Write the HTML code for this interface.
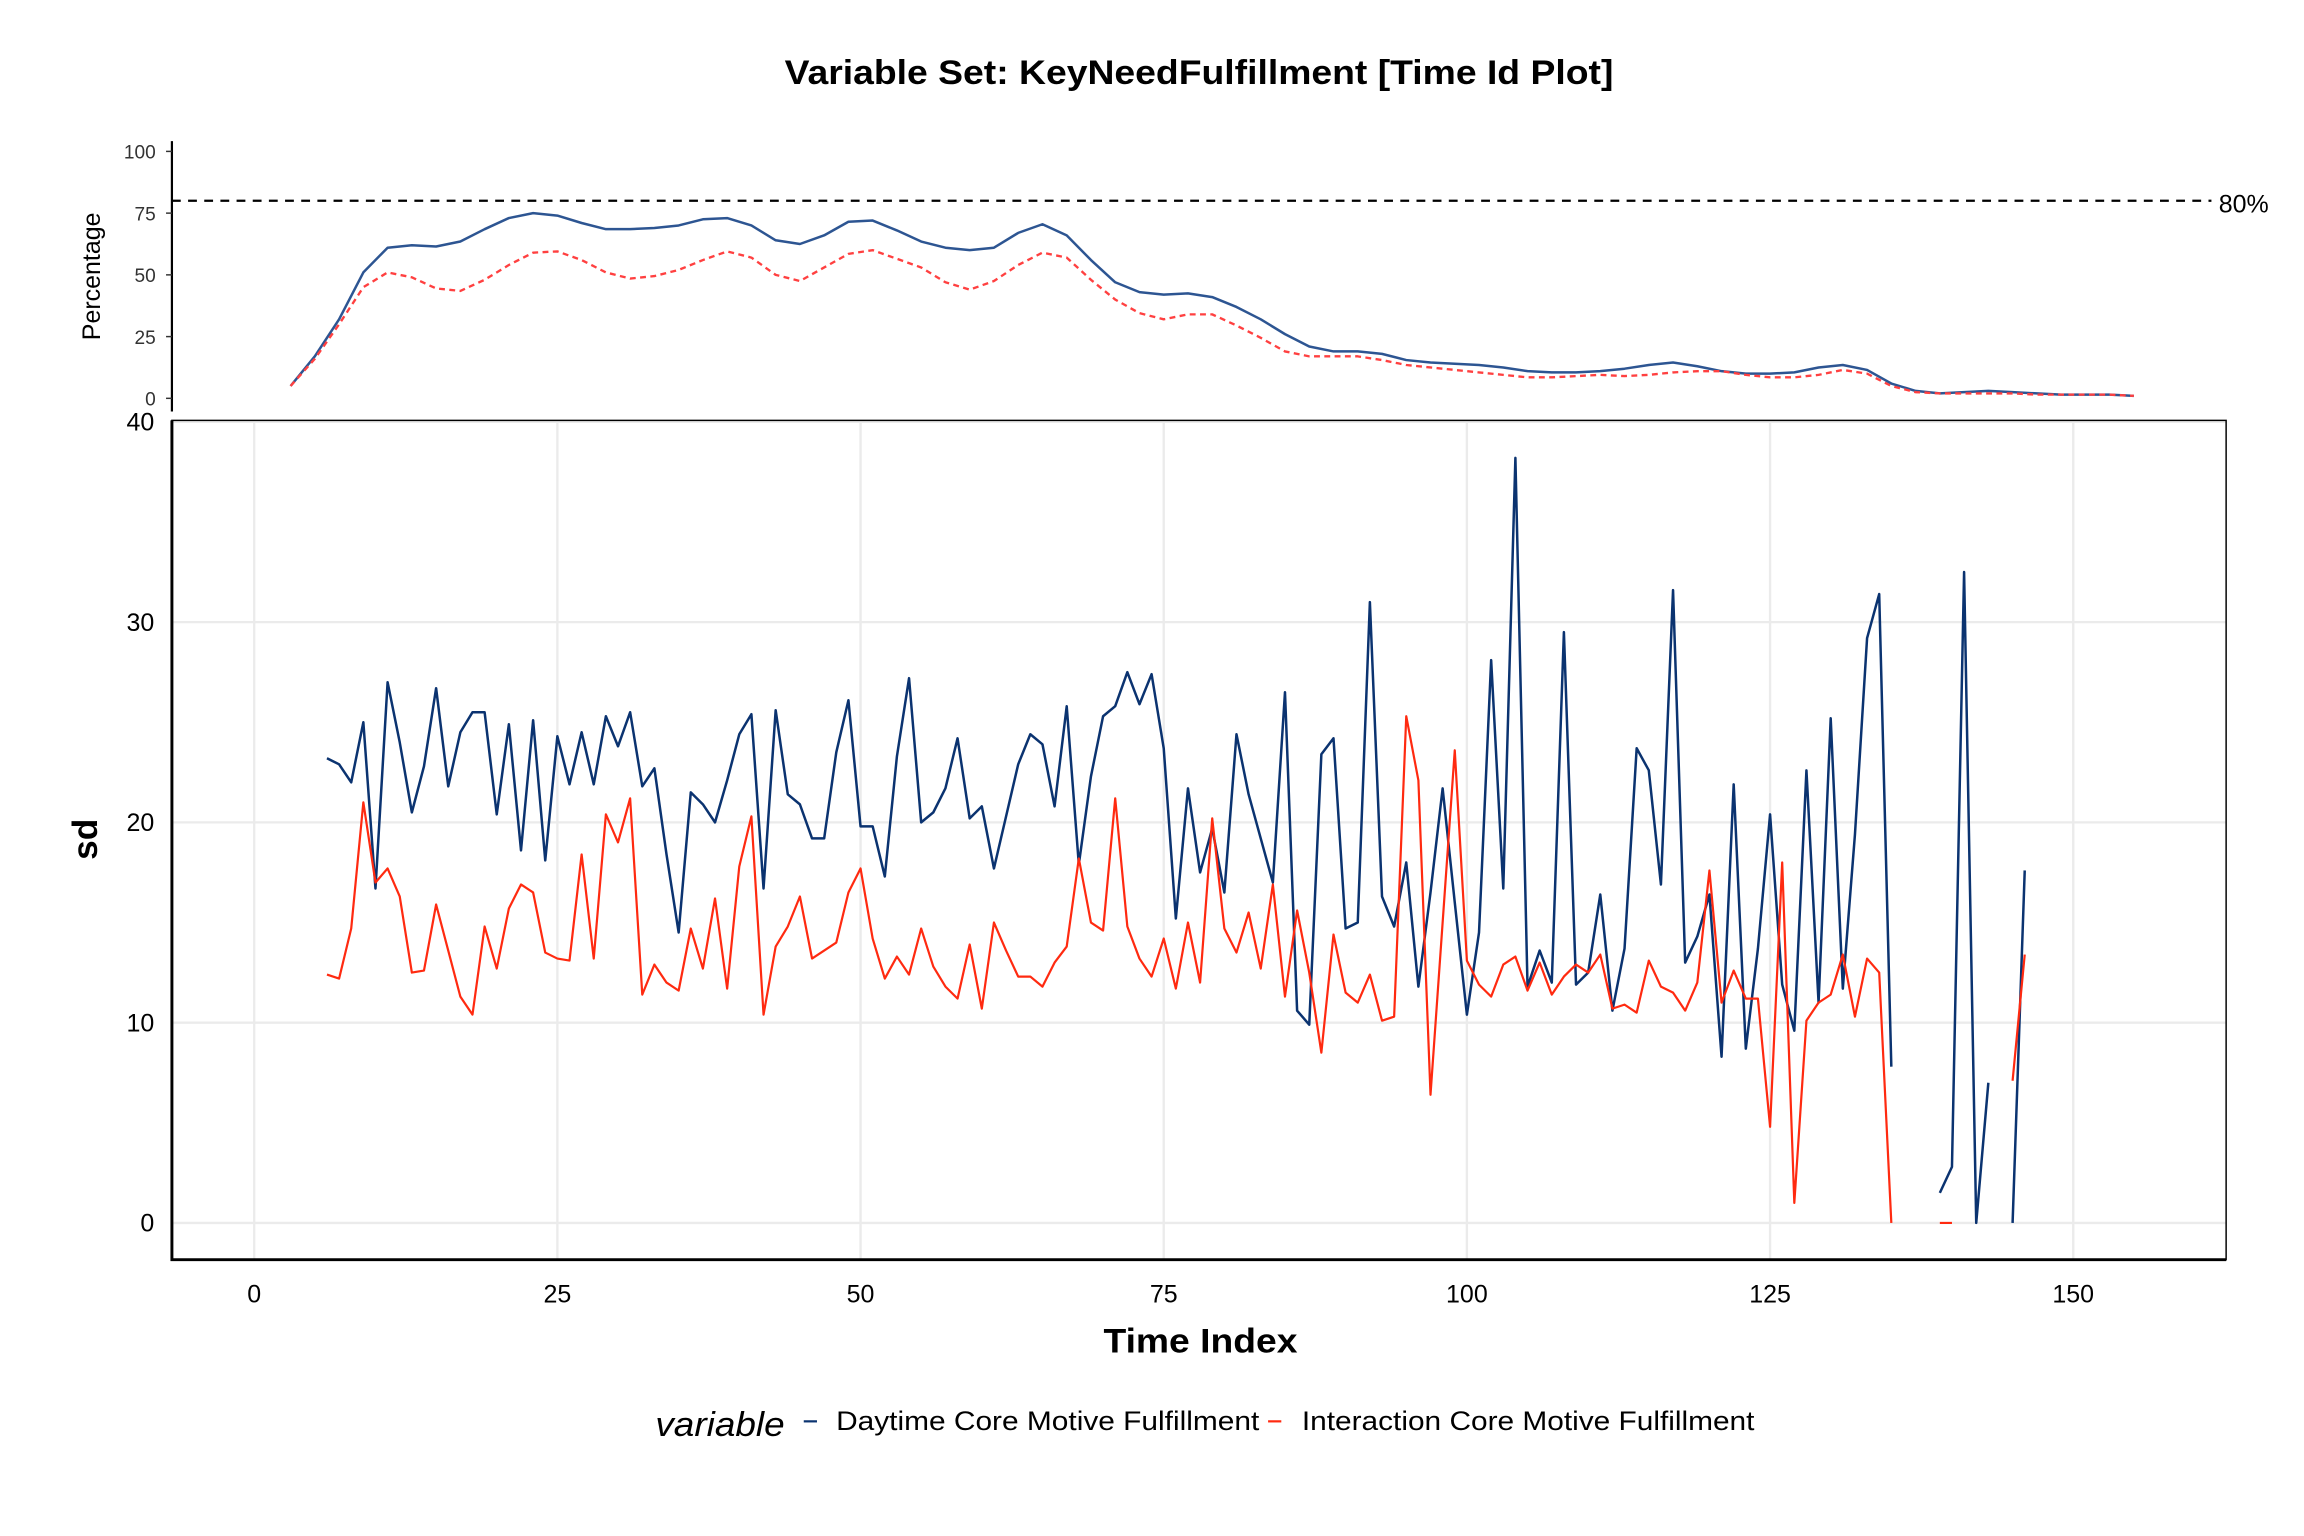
<!DOCTYPE html>
<html><head><meta charset="utf-8"><style>
html,body{margin:0;padding:0;background:#fff}
svg{display:block}
text{font-family:"Liberation Sans",Arial,sans-serif}
</style></head><body>
<svg id="chart" width="2304" height="1536" viewBox="0 0 1568 1045" preserveAspectRatio="none" xmlns="http://www.w3.org/2000/svg">
<text x="534" y="57" font-size="23" font-weight="bold" textLength="564" lengthAdjust="spacingAndGlyphs">Variable Set: KeyNeedFulfillment [Time Id Plot]</text>
<g id="topPanel"></g>
<g id="mainPanel"></g>
<text x="751" y="920" font-size="23" font-weight="bold" textLength="132" lengthAdjust="spacingAndGlyphs">Time Index</text>
<text transform="translate(66,571) rotate(-90)" text-anchor="middle" font-size="24" font-weight="bold">sd</text>
<text transform="translate(68,188) rotate(-90)" text-anchor="middle" font-size="17">Percentage</text>
<g>
<text x="446" y="977" font-size="23" font-style="italic" textLength="88" lengthAdjust="spacingAndGlyphs">variable</text>
<line x1="547" y1="967" x2="556" y2="967" stroke="#0b3370" stroke-width="1.5"/>
<text x="569" y="973" font-size="18" textLength="288" lengthAdjust="spacingAndGlyphs">Daytime Core Motive Fulfillment</text>
<line x1="863" y1="967" x2="872" y2="967" stroke="#ff2a10" stroke-width="1.5"/>
<text x="886" y="973" font-size="18" textLength="308" lengthAdjust="spacingAndGlyphs">Interaction Core Motive Fulfillment</text>
</g>
</svg>
<script>
const N=null;
const sdStart=6;
const daytimeSd=[23.2,22.9,22.0,25.0,16.7,27.0,24.0,20.5,22.8,26.7,21.8,24.5,25.5,25.5,20.4,24.9,18.6,25.1,18.1,24.3,21.9,24.5,21.9,25.3,23.8,25.5,21.8,22.7,18.4,14.5,21.5,20.9,20.0,22.1,24.4,25.4,16.7,25.6,21.4,20.9,19.2,19.2,23.5,26.1,19.8,19.8,17.3,23.3,27.2,20.0,20.5,21.7,24.2,20.2,20.8,17.7,20.3,22.9,24.4,23.9,20.8,25.8,17.9,22.3,25.3,25.8,27.5,25.9,27.4,23.7,15.2,21.7,17.5,19.7,16.5,24.4,21.4,19.2,17.0,26.5,10.6,9.9,23.4,24.2,14.7,15.0,31.0,16.3,14.8,18.0,11.8,16.5,21.7,16.0,10.4,14.5,28.1,16.7,38.2,11.8,13.6,12.0,29.5,11.9,12.5,16.4,10.6,13.7,23.7,22.6,16.9,31.6,13.0,14.3,16.4,8.3,21.9,8.7,13.7,20.4,11.9,9.6,22.6,11.0,25.2,11.7,19.4,29.2,31.4,7.8,N,N,N,1.5,2.8,32.5,0,7.0,N,0,17.6];
const interactionSd=[12.4,12.2,14.7,21.0,17.0,17.7,16.3,12.5,12.6,15.9,13.6,11.3,10.4,14.8,12.7,15.7,16.9,16.5,13.5,13.2,13.1,18.4,13.2,20.4,19.0,21.2,11.4,12.9,12.0,11.6,14.7,12.7,16.2,11.7,17.8,20.3,10.4,13.8,14.8,16.3,13.2,13.6,14.0,16.5,17.7,14.2,12.2,13.3,12.4,14.7,12.8,11.8,11.2,13.9,10.7,15.0,13.6,12.3,12.3,11.8,13.0,13.8,18.2,15.0,14.6,21.2,14.8,13.2,12.3,14.2,11.7,15.0,12.0,20.2,14.7,13.5,15.5,12.7,16.9,11.3,15.6,12.5,8.5,14.4,11.5,11.0,12.4,10.1,10.3,25.3,22.1,6.4,15.0,23.6,13.1,11.9,11.3,12.9,13.3,11.6,13.0,11.4,12.3,12.9,12.5,13.4,10.7,10.9,10.5,13.1,11.8,11.5,10.6,12.0,17.6,11.0,12.6,11.2,11.2,4.8,18.0,1.0,10.1,11.0,11.4,13.4,10.3,13.2,12.5,0,N,N,N,0,0,N,N,N,N,7.1,13.4];
const pctIndex=[3,5,7,9,11,13,15,17,19,21,23,25,27,29,31,33,35,37,39,41,43,45,47,49,51,53,55,57,59,61,63,65,67,69,71,73,75,77,79,81,83,85,87,89,91,93,95,97,99,101,103,105,107,109,111,113,115,117,119,121,123,125,127,129,131,133,135,137,139,141,143,145,147,149,151,153,155];
const daytimePct=[5,17,32,51,61,62,61.5,63.5,68.5,73,75,74,71,68.5,68.5,69,70,72.5,73,70,64,62.5,66,71.5,72,68,63.5,61,60,61,67,70.5,66,56,47,43,42,42.5,41,37,32,26,21,19,19,18,15.5,14.5,14,13.5,12.5,11,10.5,10.5,11,12,13.5,14.5,13,11,10,10,10.5,12.5,13.5,11.5,6,3,2,2.5,3,2.5,2,1.5,1.5,1.5,1];
const interactionPct=[5,16,30,45,51,49,44.5,43.5,48,54,59,59.5,56,51,48.5,49.5,52,56,59.5,57,50,47.5,53,58.5,60,56.5,53,47,44,47.5,54,59,57,48,40,34.5,32,34,34,29.5,24.5,19,17,17,17,15.5,13.5,12.5,11.5,10.5,9.5,8.5,8.5,9,9.5,9,9.5,10.5,11,11,9.5,8.5,8.5,9.5,11.5,10,5,2.5,2,2,2,2,1.5,1.5,1.5,1.5,1];
const xTicks=[0,25,50,75,100,125,150];
const yTicks=[0,10,20,30,40];
const pctTicks=[0,25,50,75,100];
const threshold=80;

const NS="http://www.w3.org/2000/svg";
const xs=v=>173+v*8.253;
const ys=v=>832-v*13.625;
const ts=v=>271-v*1.68;
function mk(tag,attrs,parent){const e=document.createElementNS(NS,tag);for(const k in attrs)e.setAttribute(k,attrs[k]);parent.appendChild(e);return e;}
const mainG=document.getElementById('mainPanel');
const topG=document.getElementById('topPanel');

for(const t of xTicks){
 const l=mk('line',{x1:xs(t),x2:xs(t),y1:286,y2:857,stroke:'#ebebeb','stroke-width':1.6},mainG);
 
 
 const tx=mk('text',{x:xs(t),y:886,'text-anchor':'middle','font-size':17},mainG);
 tx.textContent=t;
 
 
}
for(const t of yTicks){
 const l=mk('line',{x1:117,x2:1515,y1:ys(t),y2:ys(t),stroke:'#ebebeb','stroke-width':1.6},mainG);
 
 
 const tx=mk('text',{x:105,y:ys(t)+6,'text-anchor':'end','font-size':17},mainG);
 tx.textContent=t;
 
 
}
const frame=mk('rect',{x:117,y:286,width:1398,height:571,fill:'none',stroke:'#000','stroke-width':1},mainG);


const ax=mk('path',{d:'M117 286 V857 H1515',fill:'none',stroke:'#000','stroke-width':2},mainG);



function series(vals,start,sx,sy,color,parent,name,dash,width){
 let d='',pen=false;
 vals.forEach((v,i)=>{
  if(v===null){pen=false;return;}
  d+=(pen?'L':'M')+sx(start(i)).toFixed(2)+' '+sy(v).toFixed(2)+' ';
  pen=true;
 });
 const p=mk('path',{d:d,fill:'none',stroke:color,'stroke-width':width,'stroke-linejoin':'round'},parent);
 if(dash)p.setAttribute('stroke-dasharray',dash);
 
 
}
series(daytimeSd,i=>sdStart+i,xs,ys,'#0b3370',mainG,'daytime-sd-line',null,1.7);
series(interactionSd,i=>sdStart+i,xs,ys,'#ff2a10',mainG,'interaction-sd-line',null,1.5);

const tax=mk('line',{x1:117,x2:117,y1:96,y2:280,stroke:'#000','stroke-width':1.5},topG);


for(const t of pctTicks){
 const tk=mk('line',{x1:113,x2:117,y1:ts(t),y2:ts(t),stroke:'#333','stroke-width':1},topG);
 
 
 const tx=mk('text',{x:106,y:ts(t)+5,'text-anchor':'end','font-size':13,fill:'#333'},topG);
 tx.textContent=t;
 
 
}
const th=mk('line',{x1:117,x2:1505,y1:ts(threshold),y2:ts(threshold),stroke:'#000','stroke-width':1.5,'stroke-dasharray':'6 5'},topG);


const thl=mk('text',{x:1510,y:ts(threshold)+8,'font-size':17},topG);
thl.textContent=threshold+'%';


series(daytimePct,i=>pctIndex[i],xs,ts,'#2d5592',topG,'daytime-percentage-line',null,1.7);
series(interactionPct,i=>pctIndex[i],xs,ts,'#ff4040',topG,'interaction-percentage-line','4 3',1.6);
</script>
</body></html>
